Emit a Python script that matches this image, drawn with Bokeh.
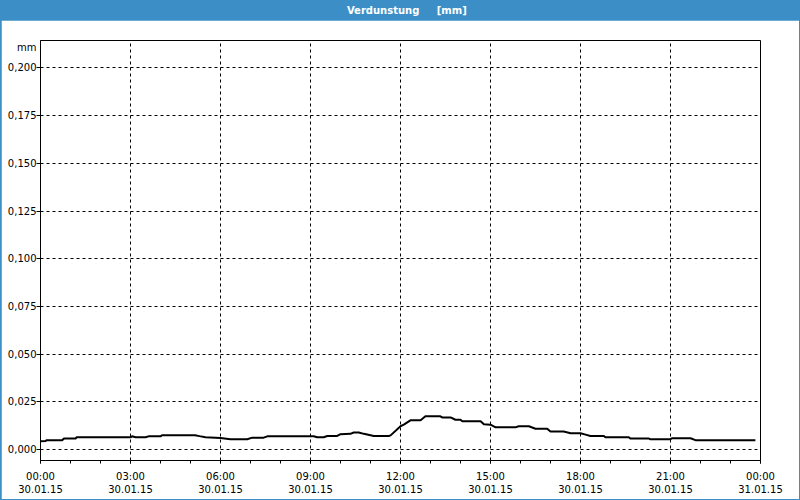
from bokeh.plotting import figure
from bokeh.models import (ColumnDataSource, FixedTicker, CustomJSTickFormatter, Range1d)
from bokeh.layouts import column
from bokeh.core.properties import value
from bokeh.embed import file_html
from bokeh.resources import INLINE

# ---- data (hours after 00:00 30.01.15, evaporation in mm) ----
hours = [0.0, 0.17, 0.2, 0.72, 0.78, 1.17, 1.2, 3.0, 3.05, 3.17, 3.5, 3.6, 4.0, 4.05,
         5.15, 5.3, 5.5, 6.0, 6.33, 6.89, 7.06, 7.44, 7.56, 9.11, 9.22, 9.44, 9.56,
         9.89, 10.0, 10.33, 10.44, 10.61, 10.78, 11.11, 11.61, 11.67, 12.0, 12.11,
         12.33, 12.67, 12.72, 12.83, 13.33, 13.39, 13.67, 13.83, 14.0, 14.06, 14.67,
         14.78, 15.0, 15.17, 15.83, 15.94, 16.28, 16.5, 16.89, 17.0, 17.44, 17.67,
         18.0, 18.17, 18.33, 18.78, 18.83, 19.61, 19.67, 20.28, 20.33, 21.0, 21.06,
         21.67, 21.83, 23.83]
values = [0.0043, 0.0044, 0.0049, 0.0049, 0.0057, 0.0057, 0.0064, 0.0064, 0.0069, 0.0064,
          0.0064, 0.0069, 0.0069, 0.0075, 0.0075, 0.0070, 0.0064, 0.0060, 0.0054, 0.0054,
          0.0062, 0.0062, 0.0069, 0.0069, 0.0064, 0.0064, 0.0071, 0.0071, 0.0080, 0.0082,
          0.0089, 0.0089, 0.0082, 0.0071, 0.0071, 0.0074, 0.0122, 0.0130, 0.0153, 0.0153,
          0.0160, 0.0174, 0.0174, 0.0168, 0.0168, 0.0156, 0.0156, 0.0148, 0.0148, 0.0132,
          0.0130, 0.0116, 0.0116, 0.0122, 0.0122, 0.0109, 0.0109, 0.0094, 0.0094, 0.0085,
          0.0085, 0.0078, 0.0071, 0.0071, 0.0064, 0.0064, 0.0057, 0.0057, 0.0054, 0.0054,
          0.0059, 0.0059, 0.0049, 0.0049]

x_ticks = [0, 3, 6, 9, 12, 15, 18, 21, 24]
x_tick_labels = ["00:00\n30.01.15", "03:00\n30.01.15", "06:00\n30.01.15",
                 "09:00\n30.01.15", "12:00\n30.01.15", "15:00\n30.01.15",
                 "18:00\n30.01.15", "21:00\n30.01.15", "00:00\n31.01.15"]
x_minor = list(range(0, 25))
y_ticks = [0.0, 0.025, 0.05, 0.075, 0.1, 0.125, 0.15, 0.175, 0.2]

title_text = ["Verdunstung\u00a0\u00a0\u00a0\u00a0\u00a0[mm]"]
unit_text = "mm"
unit_pos = 0.2107   # where the unit label sits on the y axis (top left of the frame)

BLUE = "#3c8fc6"
FONT = "DejaVu Sans"

# ---- title bar ----
head = figure(width=798, height=20, output_backend="svg", toolbar_location=None,
              x_range=Range1d(1, 799), y_range=Range1d(0, 20),
              x_axis_location=None, y_axis_location=None,
              min_border=0, min_border_left=0, min_border_right=0,
              min_border_top=0, min_border_bottom=0,
              background_fill_color=BLUE, border_fill_color=BLUE,
              outline_line_color=None)
head.xgrid.visible = False
head.ygrid.visible = False
head.text(x=[407], y=[10], text=title_text, text_color="white", text_font=value(FONT),
          text_font_size="10px", text_font_style="bold", text_align="center",
          text_baseline="middle")

# ---- main chart ----
src = ColumnDataSource(data=dict(x=hours, y=values))

p = figure(width=798, height=479, output_backend="svg", toolbar_location=None,
           x_range=Range1d(0, 24), y_range=Range1d(-0.00577, 0.2144),
           min_border_left=39, min_border_right=39, min_border_top=20, min_border_bottom=39,
           background_fill_color="white", border_fill_color="white")

p.line("x", "y", source=src, line_color="black", line_width=2)

p.outline_line_color = "black"
p.outline_line_width = 1
p.outline_line_alpha = 1

xa = p.xaxis[0]
xa.ticker = FixedTicker(ticks=x_ticks, minor_ticks=x_minor)
xa.major_label_overrides = {t: l for t, l in zip(x_ticks, x_tick_labels)}
xa.major_tick_out = 3
xa.major_tick_in = 0
xa.minor_tick_out = 3
xa.minor_tick_in = 0
xa.major_label_standoff = 7
xa.major_label_text_font = FONT
xa.major_label_text_font_size = "10px"
xa.major_label_text_color = "black"
xa.axis_line_color = "black"
xa.major_tick_line_color = "black"
xa.minor_tick_line_color = "black"

ya = p.yaxis[0]
# unit label is shown as an extra label at the top of the axis; visible tick marks are
# drawn as "minor" ticks only at the value ticks so the unit has no tick mark
ya.ticker = FixedTicker(ticks=y_ticks + [unit_pos], minor_ticks=y_ticks)
ya.formatter = CustomJSTickFormatter(
    args=dict(unit=unit_text, upos=unit_pos),
    code="if (Math.abs(tick - upos) < 1e-6) { return unit; } return tick.toFixed(3).replace('.', ',');")
ya.major_tick_out = 4
ya.major_tick_in = 0
ya.major_tick_line_alpha = 0
ya.minor_tick_out = 4
ya.minor_tick_in = 0
ya.minor_tick_line_color = "black"
ya.major_label_standoff = 0
ya.major_label_text_font = FONT
ya.major_label_text_font_size = "10px"
ya.major_label_text_color = "black"
ya.axis_line_color = "black"

for g in (p.xgrid[0], p.ygrid[0]):
    g.grid_line_color = "black"
    g.grid_line_dash = "3 3"
    g.grid_line_width = 1
p.xgrid[0].ticker = FixedTicker(ticks=x_ticks)
p.ygrid[0].ticker = FixedTicker(ticks=y_ticks)

layout = column(head, p, spacing=0,
                styles={"border-left": f"1px solid {BLUE}", "border-right": f"1px solid {BLUE}",
                        "border-bottom": f"1px solid {BLUE}", "background-color": BLUE})
open("out.html", "w").write(file_html(layout, INLINE))
